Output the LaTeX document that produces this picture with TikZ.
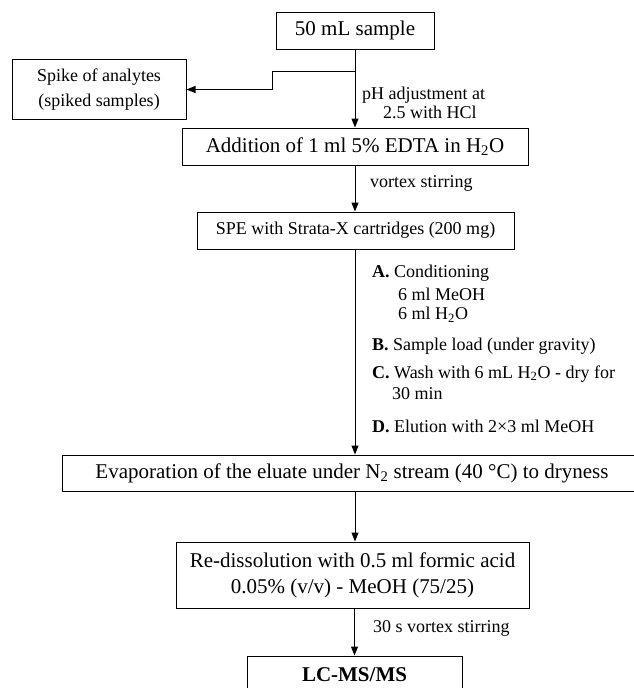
\documentclass[tikz,border=0pt]{standalone}
\usepackage{fontspec}
\setmainfont{Liberation Serif}
\usetikzlibrary{arrows.meta}
\tikzset{
  box/.style={draw, line width=1pt, inner sep=0pt, align=center},
  big/.style={font=\fontsize{21}{26}\selectfont},
  bigbold/.style={font=\fontsize{21}{26}\selectfont\bfseries},
  small/.style={font=\fontsize{18}{25}\selectfont},
  lbl/.style={anchor=west, inner sep=0pt, font=\fontsize{18}{21}\selectfont},
  arr/.style={line width=1pt, -{Triangle[length=9pt,width=7pt]}},
}
\begin{document}
\begin{tikzpicture}[x=1pt,y=-1pt]
\useasboundingbox (0,0) rectangle (633,688);
% boxes
\node[box,big,minimum width=158pt,minimum height=37pt] (n50) at (355,30.5) {50 mL sample};
\node[box,small,minimum width=174pt,minimum height=60pt] (spike) at (99,89.5) {Spike of analytes\\(spiked samples)};
\node[box,big,minimum width=346pt,minimum height=37pt] (add) at (355,146.5) {Addition of 1 ml 5\% EDTA in H\textsubscript{2}O};
\node[box,small,minimum width=317pt,minimum height=37pt] (spe) at (355.5,230.5) {SPE with Strata-X cartridges (200 mg)};
\node[box,big,minimum width=580pt,minimum height=36pt] (evap) at (352,473) {Evaporation of the eluate under N\textsubscript{2} stream (40 °C) to dryness};
\node[box,big,minimum width=353pt,minimum height=66pt] (redis) at (352.5,575) {Re-dissolution with 0.5 ml formic acid\\0.05\% (v/v) - MeOH (75/25)};
\node[box,bigbold,minimum width=215pt,minimum height=38pt] (lcms) at (354.5,675) {LC-MS/MS};
% side labels
\node[lbl] (ph1) at (362,95) {pH adjustment at};
\node[lbl] (ph2) at (383,112) {2.5 with HCl};
\node[lbl] (vs1) at (370,183) {vortex stirring};
\node[lbl] (sa) at (372,273) {\textbf{A.} Conditioning};
\node[lbl] (sa1) at (398,294) {6 ml MeOH};
\node[lbl] (sa2) at (398,315) {6 ml H\textsubscript{2}O};
\node[lbl] (sb) at (372,346) {\textbf{B.} Sample load (under gravity)};
\node[lbl] (sc) at (372,374) {\textbf{C.} Wash with 6 mL H\textsubscript{2}O - dry for};
\node[lbl] (sc1) at (392,394) {30 min};
\node[lbl] (sd) at (372,426) {\textbf{D.} Elution with 2×3 ml MeOH};
\node[lbl] (vs2) at (373,628) {30 s vortex stirring};
% connectors
\coordinate (br) at (355,71);
\coordinate (stp) at (272,71);
\draw[arr] (n50.south) -- (n50.south |- add.north);
\draw[arr] (br) -- (stp) |- (spike.east);
\draw[arr] (add.south) -- (add.south |- spe.north);
\draw[arr] (add.south |- spe.south) -- (add.south |- evap.north);
\draw[arr] (add.south |- evap.south) -- (add.south |- redis.north);
\draw[arr] (lcms.north |- redis.south) -- (lcms.north);
\end{tikzpicture}
\end{document}
